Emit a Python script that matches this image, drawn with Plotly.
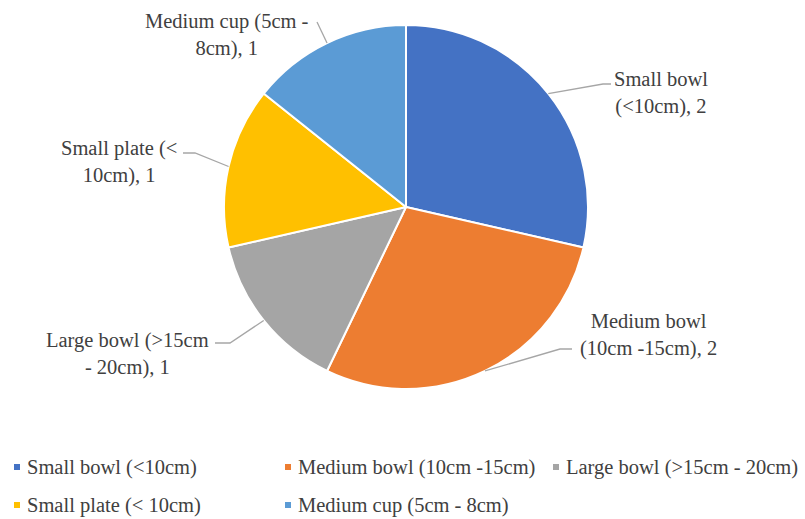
import math
import plotly.graph_objects as go

# Tableware items counted by size category
categories = [
    "Small bowl (<10cm)",
    "Medium bowl (10cm -15cm)",
    "Large bowl (>15cm - 20cm)",
    "Small plate (< 10cm)",
    "Medium cup (5cm - 8cm)",
]
counts = [2, 2, 1, 1, 1]
# Two-line wording of each outside label
label_lines = [
    ("Small bowl", "(<10cm), 2"),
    ("Medium bowl", "(10cm -15cm), 2"),
    ("Large bowl (>15cm", "- 20cm), 1"),
    ("Small plate (<", "10cm), 1"),
    ("Medium cup (5cm -", "8cm), 1"),
]
colors = ["#4472C4", "#ED7D31", "#A5A5A5", "#FFC000", "#5B9BD5"]

W, H = 805, 519
CX, CY, R = 406, 207, 182          # pie centre and radius in pixels
FONT = "Times New Roman, Liberation Serif, serif"
FS = 20.5
TXT = "#404040"
LINE = "#A6A6A6"


def px(x):
    return x / W


def py(y):
    return 1 - y / H


fig = go.Figure()
fig.add_trace(go.Pie(
    labels=categories,
    values=counts,
    sort=False,
    direction="clockwise",
    rotation=0,
    textinfo="none",
    hoverinfo="label+value",
    marker=dict(colors=colors, line=dict(color="white", width=2)),
    domain=dict(x=[px(CX - R), px(CX + R)], y=[py(CY + R), py(CY - R)]),
    showlegend=False,
))

# label placement: (label centre x, first line y, elbow points of leader line)
label_layout = [
    (661, 78, [(603, 84), (611, 84)]),
    (648, 320, [(560, 349), (572, 349)]),
    (127, 339, [(230, 343), (215, 343)]),
    (119, 147, [(195, 153), (183, 153)]),
    (227, 20, [(317, 22)]),
]

shapes = []
annotations = []
total = sum(counts)
start = 0.0
for val, lines, (lx, ly, elbows) in zip(counts, label_lines, label_layout):
    mid = (start + val / 2) / total * 2 * math.pi
    start += val
    ex = CX + R * math.sin(mid)
    ey = CY - R * math.cos(mid)
    pts = [(ex, ey)] + elbows
    path = "M " + " L ".join(f"{px(x):.5f},{py(y):.5f}" for x, y in pts)
    shapes.append(dict(type="path", path=path, xref="paper", yref="paper",
                       line=dict(color=LINE, width=1.3)))
    annotations.append(dict(
        x=px(lx), y=py(ly - 12), xref="paper", yref="paper",
        xanchor="center", yanchor="top", align="center", showarrow=False,
        text="<br>".join(lines),
        font=dict(family=FONT, size=FS, color=TXT),
    ))

# legend: square swatch + text, three columns on two rows
legend_pos = [(17, 467), (288, 467), (556, 467), (17, 505), (288, 505)]
for name, col, (sx, sy) in zip(categories, colors, legend_pos):
    shapes.append(dict(type="rect", xref="paper", yref="paper",
                       x0=px(sx - 3), x1=px(sx + 3), y0=py(sy + 3), y1=py(sy - 3),
                       fillcolor=col, line=dict(width=0)))
    annotations.append(dict(
        x=px(sx + 8), y=py(sy), xref="paper", yref="paper",
        xanchor="left", yanchor="middle", showarrow=False,
        text=name, font=dict(family=FONT, size=FS, color=TXT),
    ))

fig.update_layout(
    width=W, height=H,
    margin=dict(l=0, r=0, t=0, b=0),
    paper_bgcolor="white",
    plot_bgcolor="white",
    font=dict(family=FONT),
    shapes=shapes,
    annotations=annotations,
)

fig.write_html("out.html")
